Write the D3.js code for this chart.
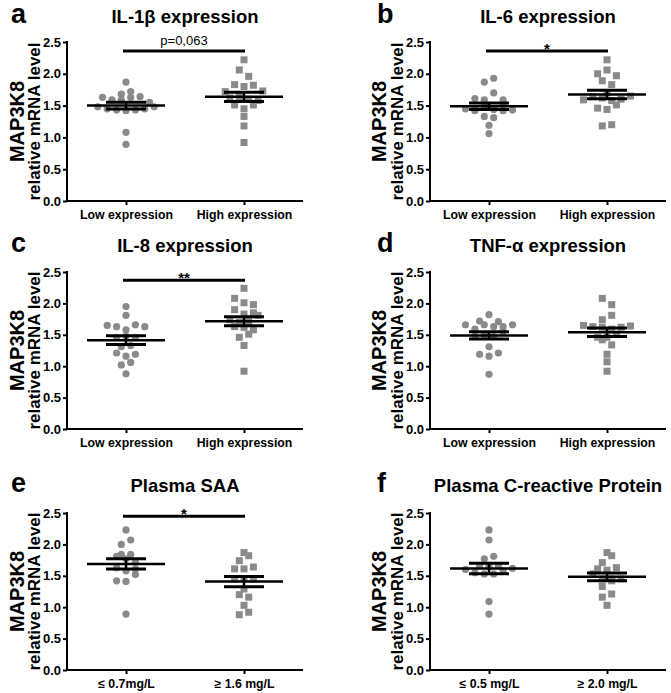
<!DOCTYPE html>
<html><head><meta charset="utf-8">
<script src="https://cdn.jsdelivr.net/npm/d3@7"></script>
<style>body{margin:0;background:#fff}</style>
</head><body>
<svg id="chart" width="671" height="693"></svg>
<script>
// ---------------- data ----------------
const panelLetters = ["a", "b", "c", "d", "e", "f"];
const panelTitles = ["IL-1β expression", "IL-6 expression", "IL-8 expression", "TNF-α expression", "Plasma SAA", "Plasma C-reactive Protein"];
const groupLabels = [
  ["Low expression", "High expression"],
  ["Low expression", "High expression"],
  ["Low expression", "High expression"],
  ["Low expression", "High expression"],
  ["≤ 0.7mg/L", "≥ 1.6 mg/L"],
  ["≤ 0.5 mg/L", "≥ 2.0 mg/L"]
];
const yTicks = [0, 0.5, 1.0, 1.5, 2.0, 2.5];
const yLabelLine1 = "MAP3K8";
const yLabelLine2 = "relative mRNA level";
const sigLabels = ["p=0,063", "*", "**", "", "*", ""];
const sigLevels = [2.36, 2.36, 2.37, null, 2.45, null];

const aLow  = [1.48, 1.68, 1.45, 1.63, 1.43, 1.59, 1.42, 1.87, 1.59, 1.08, 0.89, 1.43, 1.63, 1.45, 1.64, 1.48, 1.72, 1.55];
const aHigh = [1.72, 1.51, 1.83, 1.45, 1.62, 2.06, 1.33, 2.22, 1.80, 0.92, 1.64, 1.96, 1.51, 1.18, 1.82, 1.60, 1.58, 1.73];
const bLow  = [1.45, 1.45, 1.61, 1.42, 1.59, 1.87, 1.33, 1.06, 1.70, 1.50, 1.93, 1.44, 1.19, 1.53, 1.31, 1.59, 1.42, 1.43];
const bHigh = [1.70, 1.59, 1.64, 1.89, 1.46, 2.00, 1.18, 2.22, 1.83, 1.62, 1.44, 2.06, 1.20, 1.51, 1.97, 1.58, 1.60, 1.65];
const cLow  = [1.65, 1.46, 1.21, 1.63, 1.95, 1.58, 1.31, 1.16, 0.88, 1.81, 1.66, 1.48, 1.33, 1.02, 1.06, 1.63, 1.46, 1.19];
const cHigh = [1.74, 1.90, 1.70, 1.63, 2.08, 1.83, 1.46, 2.24, 1.62, 1.51, 0.92, 2.01, 1.85, 1.33, 1.58, 1.98, 1.71, 1.81];
const dLow  = [1.72, 1.66, 1.59, 1.66, 1.19, 1.48, 1.31, 1.82, 1.63, 1.16, 0.87, 1.50, 1.63, 1.47, 1.21, 1.55, 1.66, 1.71];
const dHigh = [1.65, 1.46, 1.63, 1.74, 1.42, 2.08, 1.62, 1.34, 0.92, 1.98, 1.81, 1.46, 1.07, 1.59, 1.19, 1.51, 1.62, 1.64];
const eLow  = [1.84, 1.63, 1.42, 2.00, 1.81, 1.58, 2.23, 1.41, 0.89, 2.07, 1.77, 1.61, 1.52, 1.72, 1.84];
const eHigh = [1.74, 1.45, 1.20, 1.03, 1.82, 1.61, 1.45, 1.16, 0.88, 1.87, 1.61, 1.45, 1.29, 0.92, 1.64];
const fLow  = [1.66, 1.60, 1.55, 1.77, 1.53, 2.23, 2.07, 1.65, 1.09, 0.89, 1.53, 1.81, 1.58, 1.62, 1.66];
const fHigh = [1.53, 1.71, 1.45, 1.82, 1.61, 1.33, 1.03, 1.42, 1.87, 1.59, 1.16, 1.45, 1.21, 1.63, 1.45];

const panelValues = [[aLow, aHigh], [bLow, bHigh], [cLow, cHigh], [dLow, dHigh], [eLow, eHigh], [fLow, fHigh]];

// ---------------- layout ----------------
const FONT = "Arial, 'Liberation Sans', Helvetica, sans-serif";
const colAxisX = [67, 430];
const colLab1X = [24, 386];
const colLab2X = [40, 403];
const colLetterX = [11, 377];
const rowTop = [42, 272, 513];
const rowBottom = [201, 429, 670];
const rowTitleY = [23, 252, 492];
const plotW = 236;
const dotColor = "#8a8a8a";
const step = 9.4;

const svg = d3.select("#chart");

function swarmOffsets(values, y, binPx) {
  const idx = values.map((v, i) => i).sort((i, j) => values[i] - values[j]);
  const bins = [];
  let cur = null;
  idx.forEach(i => {
    const py = y(values[i]);
    if (!cur || cur.start - py > binPx) { cur = { start: py, items: [] }; bins.push(cur); }
    cur.items.push(i);
  });
  const off = new Array(values.length);
  bins.forEach(b => {
    b.items.sort((i, j) => i - j);
    const n = b.items.length;
    b.items.forEach((i, k) => off[i] = (k - (n - 1) / 2) * step);
  });
  return off;
}

panelValues.forEach((groups, p) => {
  const col = p % 2, row = Math.floor(p / 2);
  const ax = colAxisX[col];
  const top = rowTop[row], bottom = rowBottom[row];
  const g = svg.append("g");

  const x = d3.scalePoint().domain(groupLabels[p]).range([ax, ax + plotW]).padding(0.5);
  const y = d3.scaleLinear().domain([0, 2.5]).range([bottom, top]);

  // letter + title
  g.append("text").attr("x", colLetterX[col]).attr("y", rowTitleY[row])
    .attr("font-family", FONT).attr("font-weight", "bold").attr("font-size", 27)
    .text(panelLetters[p]);
  g.append("text").attr("x", ax + plotW / 2).attr("y", rowTitleY[row])
    .attr("text-anchor", "middle")
    .attr("font-family", FONT).attr("font-weight", "bold").attr("font-size", 18.5)
    .text(panelTitles[p]);

  // y axis
  const yAxis = g.append("g").attr("transform", `translate(${ax},0)`)
    .call(d3.axisLeft(y).tickValues(yTicks).tickFormat(d3.format(".1f")).tickSizeOuter(0).tickSize(4).tickPadding(2));
  yAxis.select(".domain").attr("stroke", "#000").attr("stroke-width", 2)
    .attr("d", `M0,${bottom + 1}V${top - 1}`);
  yAxis.selectAll(".tick line").attr("stroke", "#000").attr("stroke-width", 2);
  yAxis.selectAll(".tick text").attr("font-family", FONT).attr("font-weight", "bold")
    .attr("font-size", 13).attr("fill", "#000");

  // x axis
  const xAxis = g.append("g").attr("transform", `translate(0,${bottom})`)
    .call(d3.axisBottom(x).tickSizeOuter(0).tickSize(4).tickPadding(4));
  xAxis.select(".domain").attr("stroke", "#000").attr("stroke-width", 2)
    .attr("d", `M${ax - 1},0H${ax + plotW}`);
  xAxis.selectAll(".tick line").attr("stroke", "#000").attr("stroke-width", 2);
  xAxis.selectAll(".tick text").attr("font-family", FONT).attr("font-weight", "bold")
    .attr("font-size", 12.3).attr("fill", "#000").attr("dy", "0.85em");

  // y label
  const cy = (top + bottom) / 2;
  g.append("text").attr("transform", `translate(${colLab1X[col]},${cy}) rotate(-90)`)
    .attr("text-anchor", "middle").attr("font-family", FONT).attr("font-weight", "bold")
    .attr("font-size", 20).text(yLabelLine1);
  g.append("text").attr("transform", `translate(${colLab2X[col]},${cy}) rotate(-90)`)
    .attr("text-anchor", "middle").attr("font-family", FONT).attr("font-weight", "bold")
    .attr("font-size", 17).text(yLabelLine2);

  // points
  groups.forEach((vals, gi) => {
    const cx = x(groupLabels[p][gi]);
    const off = swarmOffsets(vals, y, 7.5);
    if (gi === 0) {
      g.append("g").selectAll("circle").data(vals).join("circle")
        .attr("cx", (d, i) => cx + off[i]).attr("cy", d => y(d)).attr("r", 3.6)
        .attr("fill", dotColor);
    } else {
      g.append("g").selectAll("rect").data(vals).join("rect")
        .attr("x", (d, i) => cx + off[i] - 3.5).attr("y", d => y(d) - 3.5)
        .attr("width", 7).attr("height", 7).attr("fill", dotColor);
    }
    // mean & SEM
    const m = d3.mean(vals);
    const sem = d3.deviation(vals) / Math.sqrt(vals.length);
    const sg = g.append("g").attr("stroke", "#000").attr("stroke-width", 2.5).attr("fill", "none");
    sg.append("line").attr("x1", cx - 39).attr("x2", cx + 39).attr("y1", y(m)).attr("y2", y(m));
    sg.append("line").attr("x1", cx - 20).attr("x2", cx + 20).attr("y1", y(m + sem)).attr("y2", y(m + sem)).attr("stroke-width", 3);
    sg.append("line").attr("x1", cx - 20).attr("x2", cx + 20).attr("y1", y(m - sem)).attr("y2", y(m - sem)).attr("stroke-width", 3);
    sg.append("line").attr("x1", cx).attr("x2", cx).attr("y1", y(m + sem)).attr("y2", y(m - sem));
  });

  // significance
  if (sigLevels[p] != null) {
    const by = y(sigLevels[p]);
    const x1 = x(groupLabels[p][0]) - 3, x2 = x(groupLabels[p][1]) + 1;
    g.append("line").attr("x1", x1).attr("x2", x2).attr("y1", by).attr("y2", by)
      .attr("stroke", "#000").attr("stroke-width", 3);
    const isStar = sigLabels[p].indexOf("*") === 0;
    g.append("text").attr("x", (x1 + x2) / 2).attr("y", isStar ? by + 3 : by - 6)
      .attr("text-anchor", "middle").attr("font-family", FONT)
      .attr("font-weight", isStar ? "bold" : "normal")
      .attr("font-size", isStar ? 15 : 13).text(sigLabels[p]);
  }
});
</script>
</body></html>
